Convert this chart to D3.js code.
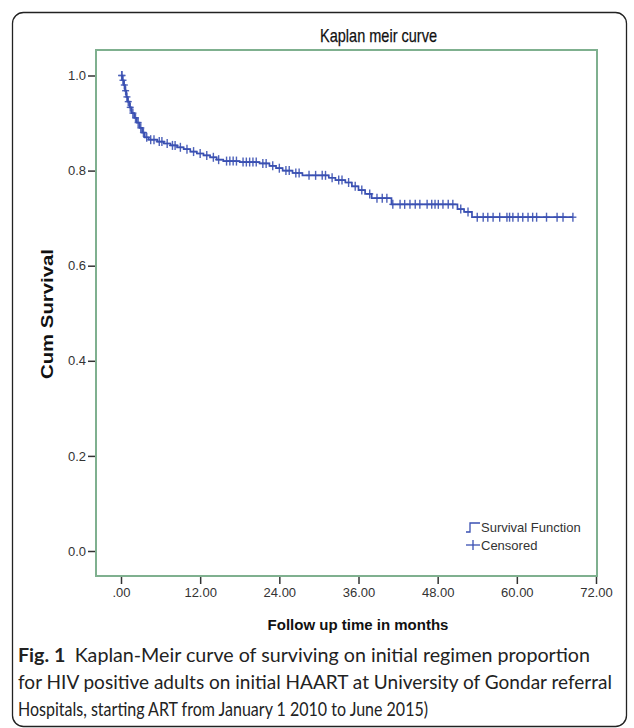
<!DOCTYPE html>
<html>
<head>
<meta charset="utf-8">
<script src="https://cdn.jsdelivr.net/npm/d3@7"></script>
<style>
  html, body { margin: 0; padding: 0; background: #fff; }
  svg { display: block; }
</style>
</head>
<body>
<svg id="chart" width="634" height="728"></svg>
<script>
// ---- data ----
const title = "Kaplan meir curve";
const xLabel = "Follow up time in months";
const yLabel = "Cum Survival";
const xTicks = [0, 12, 24, 36, 48, 60, 72];
const yTicks = [0.0, 0.2, 0.4, 0.6, 0.8, 1.0];
// Kaplan-Meier step points: [time in months, survival after the drop]
const stepTimes = [0, 0.2, 0.4, 0.6, 0.8, 1.0, 1.3, 1.6, 2.0, 2.4, 2.8, 3.2, 3.6, 4.2, 5.5, 6.5, 7.5, 8.5, 9.5, 10.5, 11.5, 12.5, 13.5, 14.5, 15.5, 18, 21, 22.5, 23.5, 24.5, 26, 27.5, 31.5, 32.5, 34, 35, 36, 37, 38, 41, 51, 52, 53.2];
const stepSurv  = [1.0, 0.99, 0.98, 0.968, 0.955, 0.945, 0.933, 0.921, 0.911, 0.901, 0.890, 0.880, 0.870, 0.865, 0.861, 0.857, 0.853, 0.849, 0.845, 0.840, 0.836, 0.832, 0.828, 0.823, 0.820, 0.818, 0.815, 0.810, 0.805, 0.800, 0.795, 0.790, 0.785, 0.780, 0.775, 0.767, 0.759, 0.751, 0.742, 0.729, 0.719, 0.713, 0.702];
const endTime = 68.5;
// censored observation times (months)
const censoredTimes = [0.1, 0.15, 0.3, 0.5, 0.7, 0.9, 1.1, 1.4, 1.8, 2.2, 2.6, 3.0, 3.4, 3.9, 4.5, 5.0, 5.8, 6.2, 7.0, 7.8, 8.2, 9.0, 10.0, 11.0, 12.0, 13.0, 14.0, 14.8, 16.0, 16.5, 17.0, 17.5, 18.5, 19.0, 19.5, 20.0, 20.5, 21.5, 22.0, 23.0, 24.0, 25.0, 25.5, 26.5, 27.0, 28.5, 29.5, 30.5, 31.0, 32.0, 33.0, 33.5, 34.5, 35.5, 36.5, 37.7, 38.8, 39.6, 40.3, 41.2, 42.3, 43.0, 43.8, 44.6, 45.3, 46.4, 47.1, 47.6, 48.1, 48.8, 49.6, 50.3, 51.5, 52.6, 54.0, 54.9, 55.6, 56.4, 57.4, 58.5, 58.9, 59.4, 60.2, 60.9, 61.7, 62.4, 63.0, 64.5, 66.1, 67.0, 68.5];
const legendLabels = ["Survival Function", "Censored"];
const captionBold = "Fig. 1";
const captionLines = [
  "Kaplan-Meir curve of surviving on initial regimen proportion",
  "for HIV positive adults on initial HAART at University of Gondar referral",
  "Hospitals, starting ART from January 1 2010 to June 2015)"
];

// ---- drawing ----
const svg = d3.select("#chart");
const blue = "#3a50b2";
const green = "#7fb08f";
const axisText = "#333";
const sans = "Liberation Sans, Arial, sans-serif";

// outer frame
svg.append("rect")
  .attr("x", 12.5).attr("y", 12.5)
  .attr("width", 614).attr("height", 714)
  .attr("rx", 11).attr("ry", 11)
  .attr("fill", "none").attr("stroke", "#222").attr("stroke-width", 1.3);

const plot = { left: 96, right: 597, top: 50, bottom: 576 };
const x = d3.scaleLinear().domain([0, 72]).range([121, 596]);
const y = d3.scaleLinear().domain([0, 1]).range([551, 75.5]);

// title
svg.append("text")
  .attr("x", 320).attr("y", 42)
  .attr("font-family", sans)
  .attr("font-size", 19)
  .attr("textLength", 117).attr("lengthAdjust", "spacingAndGlyphs")
  .attr("fill", "#111").attr("stroke", "#111").attr("stroke-width", 0.25)
  .text(title);

// plot frame
svg.append("rect")
  .attr("x", plot.left).attr("y", plot.top)
  .attr("width", plot.right - plot.left).attr("height", plot.bottom - plot.top)
  .attr("fill", "#fff").attr("stroke", green).attr("stroke-width", 2);

// y axis
const yAxis = d3.axisLeft(y).tickValues(yTicks).tickFormat(d3.format(".1f")).tickSize(7).tickPadding(2);
const gy = svg.append("g").attr("transform", `translate(${plot.left - 1},0)`).call(yAxis);
gy.select(".domain").remove();
gy.selectAll(".tick line").attr("stroke", "#333").attr("stroke-width", 1.5);
gy.selectAll(".tick text")
  .attr("font-family", sans)
  .attr("font-size", 13).attr("fill", axisText);

// x axis
const xAxis = d3.axisBottom(x).tickValues(xTicks)
  .tickFormat(d => d === 0 ? ".00" : d3.format(".2f")(d))
  .tickSize(7).tickPadding(4);
const gx = svg.append("g").attr("transform", `translate(0,${plot.bottom + 1})`).call(xAxis);
gx.select(".domain").remove();
gx.selectAll(".tick line").attr("stroke", "#333").attr("stroke-width", 1.5);
gx.selectAll(".tick text")
  .attr("font-family", sans)
  .attr("font-size", 13).attr("fill", axisText);

// axis titles
svg.append("text")
  .attr("transform", "translate(53,379) rotate(-90)")
  .attr("font-family", sans)
  .attr("font-weight", "bold")
  .attr("font-size", 17)
  .attr("textLength", 130).attr("lengthAdjust", "spacingAndGlyphs")
  .attr("fill", "#111")
  .text(yLabel);
svg.append("text")
  .attr("x", 358).attr("y", 630)
  .attr("text-anchor", "middle")
  .attr("font-family", sans)
  .attr("font-weight", "bold")
  .attr("font-size", 15).attr("fill", "#111")
  .text(xLabel);

// step curve
const stepData = stepTimes.map((t, i) => [t, stepSurv[i]]);
stepData.push([endTime, stepSurv[stepSurv.length - 1]]);
const line = d3.line().x(d => x(d[0])).y(d => y(d[1])).curve(d3.curveStepAfter);
svg.append("path")
  .datum(stepData)
  .attr("d", line)
  .attr("fill", "none").attr("stroke", blue).attr("stroke-width", 1.7);

// survival at time t
function survAt(t) {
  let s = 1;
  for (let i = 0; i < stepTimes.length; i++) {
    if (stepTimes[i] <= t) s = stepSurv[i]; else break;
  }
  return s;
}
const cg = svg.append("g").attr("stroke", blue).attr("stroke-width", 1.4).attr("opacity", 0.9);
censoredTimes.forEach(t => {
  const cx = x(t), cy = y(survAt(t));
  cg.append("line").attr("x1", cx).attr("x2", cx).attr("y1", cy - 4.5).attr("y2", cy + 4.5);
  cg.append("line").attr("x1", cx - 3.5).attr("x2", cx + 3.5).attr("y1", cy).attr("y2", cy);
});

// legend
const lg = svg.append("g");
const lx = 466;
lg.append("path")
  .attr("d", `M${lx},532 L${lx + 4},532 L${lx + 4},523 L${lx + 14},523`)
  .attr("fill", "none").attr("stroke", blue).attr("stroke-width", 1.3);
lg.append("text").attr("x", lx + 15).attr("y", 532)
  .attr("font-family", sans)
  .attr("font-size", 13).attr("fill", axisText).text(legendLabels[0]);
lg.append("line").attr("x1", lx).attr("x2", lx + 14).attr("y1", 545).attr("y2", 545)
  .attr("stroke", blue).attr("stroke-width", 1.3);
lg.append("line").attr("x1", lx + 7).attr("x2", lx + 7).attr("y1", 540).attr("y2", 550)
  .attr("stroke", blue).attr("stroke-width", 1.3);
lg.append("text").attr("x", lx + 15).attr("y", 550)
  .attr("font-family", sans)
  .attr("font-size", 13).attr("fill", axisText).text(legendLabels[1]);

// caption
const capFont = "Lato, Open Sans, sans-serif";
const capSize = 19;
const capY = [662, 689, 716];
const capWidths = [572, 594, 410];
const t1 = svg.append("text")
  .attr("x", 18).attr("y", capY[0])
  .attr("font-family", capFont).attr("font-size", capSize).attr("fill", "#222");
t1.append("tspan").attr("font-weight", "bold").text(captionBold);
t1.append("tspan").attr("dx", 9).text(captionLines[0]);
t1.attr("textLength", capWidths[0]).attr("lengthAdjust", "spacingAndGlyphs");
for (let i = 1; i < 3; i++) {
  svg.append("text")
    .attr("x", 18).attr("y", capY[i])
    .attr("font-family", capFont).attr("font-size", capSize).attr("fill", "#222")
    .attr("textLength", capWidths[i]).attr("lengthAdjust", "spacingAndGlyphs")
    .text(captionLines[i]);
}
</script>
</body>
</html>
